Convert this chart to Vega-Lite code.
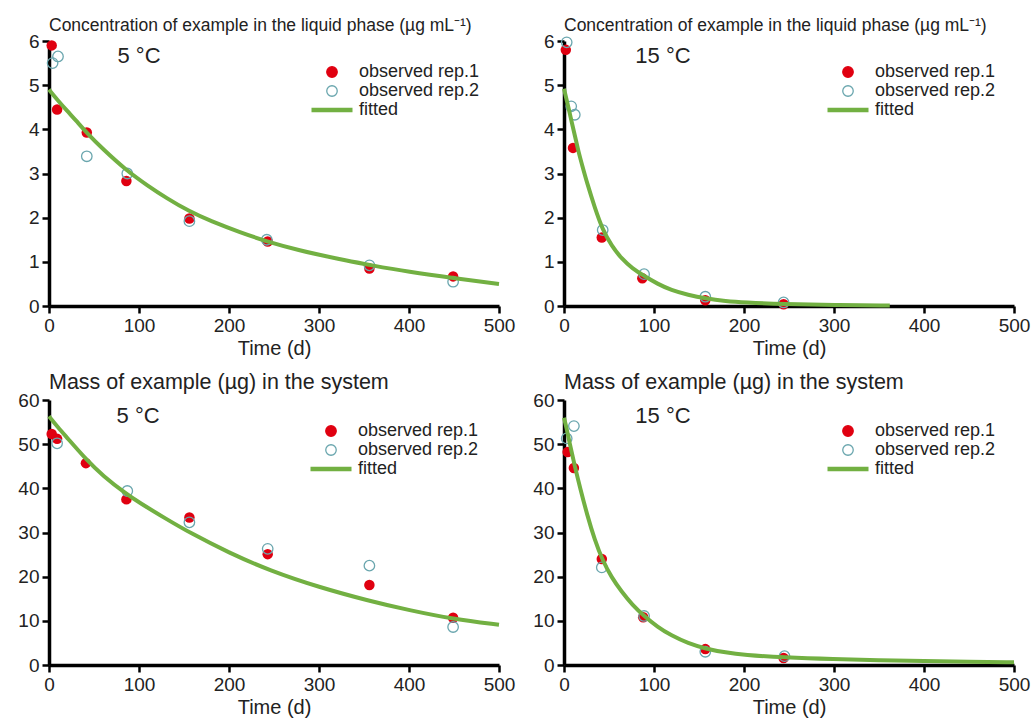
{
  "$schema": "https://vega.github.io/schema/vega-lite/v6.json",
  "background": "white",
  "padding": {"left": 17, "top": 16, "right": 5, "bottom": 5},
  "config": {
    "view": {"stroke": null},
    "font": "Liberation Sans",
    "axis": {
      "grid": false, "domainColor": "black", "domainWidth": 3.5, "tickColor": "black", "tickWidth": 2.5, "tickSize": 7,
      "labelFontSize": 19, "labelColor": "#222", "labelFont": "Liberation Sans", "labelPadding": 3, "labelFlush": false,
      "titleFontSize": 20, "titleFontWeight": "normal", "titleColor": "#222", "titleFont": "Liberation Sans", "titlePadding": 3
    },
    "title": {"anchor": "start", "frame": "group", "fontWeight": "normal", "color": "#222", "font": "Liberation Sans", "offset": -2},
    "legend": {"labelFontSize": 18, "labelColor": "#222", "labelFont": "Liberation Sans", "symbolSize": 110, "labelOffset": 18, "rowPadding": 1, "padding": 0, "symbolStrokeWidth": 1.3}
  },
  "datasets": {
    "obs": [
      {"panel": "c5", "series": "observed rep.1", "t": 3, "v": 5.9},
      {"panel": "c5", "series": "observed rep.1", "t": 9, "v": 4.45},
      {"panel": "c5", "series": "observed rep.1", "t": 42, "v": 3.93},
      {"panel": "c5", "series": "observed rep.1", "t": 86, "v": 2.83},
      {"panel": "c5", "series": "observed rep.1", "t": 156, "v": 1.98},
      {"panel": "c5", "series": "observed rep.1", "t": 243, "v": 1.46},
      {"panel": "c5", "series": "observed rep.1", "t": 356, "v": 0.85},
      {"panel": "c5", "series": "observed rep.1", "t": 449, "v": 0.67},
      {"panel": "c5", "series": "observed rep.2", "t": 4, "v": 5.5},
      {"panel": "c5", "series": "observed rep.2", "t": 10, "v": 5.65},
      {"panel": "c5", "series": "observed rep.2", "t": 42, "v": 3.39},
      {"panel": "c5", "series": "observed rep.2", "t": 87, "v": 3.0},
      {"panel": "c5", "series": "observed rep.2", "t": 156, "v": 1.92},
      {"panel": "c5", "series": "observed rep.2", "t": 242, "v": 1.5},
      {"panel": "c5", "series": "observed rep.2", "t": 356, "v": 0.92},
      {"panel": "c5", "series": "observed rep.2", "t": 449, "v": 0.55},
      {"panel": "c15", "series": "observed rep.1", "t": 2, "v": 5.8},
      {"panel": "c15", "series": "observed rep.1", "t": 10, "v": 3.58},
      {"panel": "c15", "series": "observed rep.1", "t": 42, "v": 1.55},
      {"panel": "c15", "series": "observed rep.1", "t": 87, "v": 0.63},
      {"panel": "c15", "series": "observed rep.1", "t": 157, "v": 0.13},
      {"panel": "c15", "series": "observed rep.1", "t": 244, "v": 0.04},
      {"panel": "c15", "series": "observed rep.2", "t": 3, "v": 5.97},
      {"panel": "c15", "series": "observed rep.2", "t": 8, "v": 4.52},
      {"panel": "c15", "series": "observed rep.2", "t": 12, "v": 4.33},
      {"panel": "c15", "series": "observed rep.2", "t": 43, "v": 1.72},
      {"panel": "c15", "series": "observed rep.2", "t": 89, "v": 0.72},
      {"panel": "c15", "series": "observed rep.2", "t": 157, "v": 0.21},
      {"panel": "c15", "series": "observed rep.2", "t": 244, "v": 0.08},
      {"panel": "m5", "series": "observed rep.1", "t": 3, "v": 52.3},
      {"panel": "m5", "series": "observed rep.1", "t": 9, "v": 51.2},
      {"panel": "m5", "series": "observed rep.1", "t": 41, "v": 45.7},
      {"panel": "m5", "series": "observed rep.1", "t": 86, "v": 37.5},
      {"panel": "m5", "series": "observed rep.1", "t": 156, "v": 33.4},
      {"panel": "m5", "series": "observed rep.1", "t": 243, "v": 25.1},
      {"panel": "m5", "series": "observed rep.1", "t": 356, "v": 18.1},
      {"panel": "m5", "series": "observed rep.1", "t": 449, "v": 10.7},
      {"panel": "m5", "series": "observed rep.2", "t": 9, "v": 50.2},
      {"panel": "m5", "series": "observed rep.2", "t": 87, "v": 39.4},
      {"panel": "m5", "series": "observed rep.2", "t": 156, "v": 32.3},
      {"panel": "m5", "series": "observed rep.2", "t": 243, "v": 26.3},
      {"panel": "m5", "series": "observed rep.2", "t": 356, "v": 22.5},
      {"panel": "m5", "series": "observed rep.2", "t": 449, "v": 8.6},
      {"panel": "m15", "series": "observed rep.1", "t": 4, "v": 48.2},
      {"panel": "m15", "series": "observed rep.1", "t": 11, "v": 44.6},
      {"panel": "m15", "series": "observed rep.1", "t": 42, "v": 24.0},
      {"panel": "m15", "series": "observed rep.1", "t": 88, "v": 10.8},
      {"panel": "m15", "series": "observed rep.1", "t": 157, "v": 3.6},
      {"panel": "m15", "series": "observed rep.1", "t": 244, "v": 1.6},
      {"panel": "m15", "series": "observed rep.2", "t": 3, "v": 51.3},
      {"panel": "m15", "series": "observed rep.2", "t": 11, "v": 54.1},
      {"panel": "m15", "series": "observed rep.2", "t": 42, "v": 22.1},
      {"panel": "m15", "series": "observed rep.2", "t": 89, "v": 11.1},
      {"panel": "m15", "series": "observed rep.2", "t": 157, "v": 3.0},
      {"panel": "m15", "series": "observed rep.2", "t": 245, "v": 2.0}
    ],
    "fit": [
      {"panel": "c5", "series": "fitted", "t": 0, "v": 4.9},
      {"panel": "c5", "series": "fitted", "t": 10, "v": 4.65},
      {"panel": "c5", "series": "fitted", "t": 20, "v": 4.42},
      {"panel": "c5", "series": "fitted", "t": 30, "v": 4.2},
      {"panel": "c5", "series": "fitted", "t": 42, "v": 3.92},
      {"panel": "c5", "series": "fitted", "t": 60, "v": 3.55},
      {"panel": "c5", "series": "fitted", "t": 86, "v": 3.07},
      {"panel": "c5", "series": "fitted", "t": 110, "v": 2.72},
      {"panel": "c5", "series": "fitted", "t": 130, "v": 2.45},
      {"panel": "c5", "series": "fitted", "t": 156, "v": 2.14},
      {"panel": "c5", "series": "fitted", "t": 180, "v": 1.92},
      {"panel": "c5", "series": "fitted", "t": 212, "v": 1.67},
      {"panel": "c5", "series": "fitted", "t": 245, "v": 1.44},
      {"panel": "c5", "series": "fitted", "t": 280, "v": 1.25},
      {"panel": "c5", "series": "fitted", "t": 300, "v": 1.16},
      {"panel": "c5", "series": "fitted", "t": 330, "v": 1.03},
      {"panel": "c5", "series": "fitted", "t": 356, "v": 0.93},
      {"panel": "c5", "series": "fitted", "t": 400, "v": 0.77},
      {"panel": "c5", "series": "fitted", "t": 449, "v": 0.63},
      {"panel": "c5", "series": "fitted", "t": 500, "v": 0.5},
      {"panel": "c15", "series": "fitted", "t": 0, "v": 4.92},
      {"panel": "c15", "series": "fitted", "t": 3, "v": 4.66},
      {"panel": "c15", "series": "fitted", "t": 6, "v": 4.4},
      {"panel": "c15", "series": "fitted", "t": 9, "v": 4.12},
      {"panel": "c15", "series": "fitted", "t": 12, "v": 3.87},
      {"panel": "c15", "series": "fitted", "t": 16, "v": 3.5},
      {"panel": "c15", "series": "fitted", "t": 20, "v": 3.2},
      {"panel": "c15", "series": "fitted", "t": 26, "v": 2.76},
      {"panel": "c15", "series": "fitted", "t": 34, "v": 2.24},
      {"panel": "c15", "series": "fitted", "t": 43, "v": 1.72},
      {"panel": "c15", "series": "fitted", "t": 53, "v": 1.36},
      {"panel": "c15", "series": "fitted", "t": 64, "v": 1.07},
      {"panel": "c15", "series": "fitted", "t": 76, "v": 0.85},
      {"panel": "c15", "series": "fitted", "t": 89, "v": 0.68},
      {"panel": "c15", "series": "fitted", "t": 104, "v": 0.5},
      {"panel": "c15", "series": "fitted", "t": 119, "v": 0.36},
      {"panel": "c15", "series": "fitted", "t": 138, "v": 0.25},
      {"panel": "c15", "series": "fitted", "t": 157, "v": 0.17},
      {"panel": "c15", "series": "fitted", "t": 180, "v": 0.11},
      {"panel": "c15", "series": "fitted", "t": 200, "v": 0.08},
      {"panel": "c15", "series": "fitted", "t": 244, "v": 0.04},
      {"panel": "c15", "series": "fitted", "t": 300, "v": 0.02},
      {"panel": "c15", "series": "fitted", "t": 362, "v": 0.01},
      {"panel": "m5", "series": "fitted", "t": 0, "v": 56.3},
      {"panel": "m5", "series": "fitted", "t": 10, "v": 53.8},
      {"panel": "m5", "series": "fitted", "t": 20, "v": 51.5},
      {"panel": "m5", "series": "fitted", "t": 41, "v": 46.6},
      {"panel": "m5", "series": "fitted", "t": 60, "v": 42.8},
      {"panel": "m5", "series": "fitted", "t": 86, "v": 38.7},
      {"panel": "m5", "series": "fitted", "t": 100, "v": 36.8},
      {"panel": "m5", "series": "fitted", "t": 130, "v": 33.1},
      {"panel": "m5", "series": "fitted", "t": 156, "v": 30.0},
      {"panel": "m5", "series": "fitted", "t": 200, "v": 25.4},
      {"panel": "m5", "series": "fitted", "t": 245, "v": 21.4},
      {"panel": "m5", "series": "fitted", "t": 300, "v": 17.6},
      {"panel": "m5", "series": "fitted", "t": 356, "v": 14.5},
      {"panel": "m5", "series": "fitted", "t": 400, "v": 12.4},
      {"panel": "m5", "series": "fitted", "t": 449, "v": 10.4},
      {"panel": "m5", "series": "fitted", "t": 500, "v": 9.1},
      {"panel": "m15", "series": "fitted", "t": 0, "v": 56},
      {"panel": "m15", "series": "fitted", "t": 3, "v": 53.5},
      {"panel": "m15", "series": "fitted", "t": 6, "v": 50.5},
      {"panel": "m15", "series": "fitted", "t": 12, "v": 45},
      {"panel": "m15", "series": "fitted", "t": 18, "v": 40},
      {"panel": "m15", "series": "fitted", "t": 26, "v": 33.8},
      {"panel": "m15", "series": "fitted", "t": 34, "v": 28.4},
      {"panel": "m15", "series": "fitted", "t": 43, "v": 23.6},
      {"panel": "m15", "series": "fitted", "t": 53, "v": 19.8},
      {"panel": "m15", "series": "fitted", "t": 64, "v": 16.6},
      {"panel": "m15", "series": "fitted", "t": 76, "v": 13.6},
      {"panel": "m15", "series": "fitted", "t": 89, "v": 11.1},
      {"panel": "m15", "series": "fitted", "t": 104, "v": 8.6},
      {"panel": "m15", "series": "fitted", "t": 119, "v": 6.7},
      {"panel": "m15", "series": "fitted", "t": 138, "v": 4.9},
      {"panel": "m15", "series": "fitted", "t": 157, "v": 3.7},
      {"panel": "m15", "series": "fitted", "t": 180, "v": 2.8},
      {"panel": "m15", "series": "fitted", "t": 200, "v": 2.3},
      {"panel": "m15", "series": "fitted", "t": 244, "v": 1.7},
      {"panel": "m15", "series": "fitted", "t": 300, "v": 1.3},
      {"panel": "m15", "series": "fitted", "t": 350, "v": 1.1},
      {"panel": "m15", "series": "fitted", "t": 400, "v": 0.9},
      {"panel": "m15", "series": "fitted", "t": 450, "v": 0.75},
      {"panel": "m15", "series": "fitted", "t": 500, "v": 0.6}
    ],
    "labels": [
      {"panel": "c5", "label": "5 °C"},
      {"panel": "c15", "label": "15 °C"},
      {"panel": "m5", "label": "5 °C"},
      {"panel": "m15", "label": "15 °C"}
    ]
  },
  "columns": 2,
  "bounds": "flush",
  "spacing": {"row": 94, "column": 65},
  "resolve": {"scale": {"color": "independent"}, "legend": {"color": "independent"}},
  "concat": [
    {
      "width": 450, "height": 265,
      "title": {"text": "Concentration of example in the liquid phase (µg mL⁻¹)", "fontSize": 17.5},
      "layer": [
        {"data": {"name": "obs"}, "transform": [{"filter": "datum.panel === 'c5' && datum.series === 'observed rep.1'"}],
         "mark": {"type": "point", "filled": true, "size": 110, "opacity": 1},
         "encoding": {
           "x": {"field": "t", "type": "quantitative", "scale": {"domain": [0, 500], "nice": false}, "axis": {"title": "Time (d)", "values": [0, 100, 200, 300, 400, 500]}},
           "y": {"field": "v", "type": "quantitative", "scale": {"domain": [0, 6], "nice": false}, "axis": {"title": null, "values": [0, 1, 2, 3, 4, 5, 6]}},
           "color": {"field": "series", "type": "nominal", "scale": {"domain": ["observed rep.1", "observed rep.2", "fitted"], "range": ["#e00010", "#6aa6ae", "#72b042"]},
             "legend": {"title": null, "orient": "none", "legendX": 274, "legendY": 22,
               "encode": {"symbols": {"update": {
                 "shape": {"signal": "datum.value === 'fitted' ? 'stroke' : 'circle'"},
                 "size": {"signal": "datum.value === 'fitted' ? 1681 : 110"},
                 "fill": {"signal": "datum.value === 'observed rep.1' ? '#e00010' : 'transparent'"},
                 "fillOpacity": {"signal": "datum.value === 'observed rep.1' ? 1 : 0"},
                 "stroke": {"signal": "datum.value === 'observed rep.1' ? '#e00010' : datum.value === 'observed rep.2' ? '#6aa6ae' : '#72b042'"},
                 "strokeWidth": {"signal": "datum.value === 'fitted' ? 4.5 : 1.3"},
                 "opacity": {"value": 1}, "strokeOpacity": {"value": 1}}}}}}
         }},
        {"data": {"name": "obs"}, "transform": [{"filter": "datum.panel === 'c5' && datum.series === 'observed rep.2'"}],
         "mark": {"type": "point", "filled": false, "size": 110, "strokeWidth": 1.3, "opacity": 1},
         "encoding": {"x": {"field": "t", "type": "quantitative"}, "y": {"field": "v", "type": "quantitative"},
           "color": {"field": "series", "type": "nominal",
             "legend": {"title": null, "orient": "none", "legendX": 274, "legendY": 22,
               "encode": {"symbols": {"update": {
                 "shape": {"signal": "datum.value === 'fitted' ? 'stroke' : 'circle'"},
                 "size": {"signal": "datum.value === 'fitted' ? 1681 : 110"},
                 "fill": {"signal": "datum.value === 'observed rep.1' ? '#e00010' : 'transparent'"},
                 "fillOpacity": {"signal": "datum.value === 'observed rep.1' ? 1 : 0"},
                 "stroke": {"signal": "datum.value === 'observed rep.1' ? '#e00010' : datum.value === 'observed rep.2' ? '#6aa6ae' : '#72b042'"},
                 "strokeWidth": {"signal": "datum.value === 'fitted' ? 4.5 : 1.3"},
                 "opacity": {"value": 1}, "strokeOpacity": {"value": 1}}}}}}}},
        {"data": {"name": "fit"}, "transform": [{"filter": "datum.panel === 'c5'"}],
         "mark": {"type": "line", "strokeWidth": 4, "interpolate": "basis"},
         "encoding": {"x": {"field": "t", "type": "quantitative"}, "y": {"field": "v", "type": "quantitative"},
           "color": {"field": "series", "type": "nominal",
             "legend": {"title": null, "orient": "none", "legendX": 274, "legendY": 22,
               "encode": {"symbols": {"update": {
                 "shape": {"signal": "datum.value === 'fitted' ? 'stroke' : 'circle'"},
                 "size": {"signal": "datum.value === 'fitted' ? 1681 : 110"},
                 "fill": {"signal": "datum.value === 'observed rep.1' ? '#e00010' : 'transparent'"},
                 "fillOpacity": {"signal": "datum.value === 'observed rep.1' ? 1 : 0"},
                 "stroke": {"signal": "datum.value === 'observed rep.1' ? '#e00010' : datum.value === 'observed rep.2' ? '#6aa6ae' : '#72b042'"},
                 "strokeWidth": {"signal": "datum.value === 'fitted' ? 4.5 : 1.3"},
                 "opacity": {"value": 1}, "strokeOpacity": {"value": 1}}}}}}}},
        {"data": {"name": "labels"}, "transform": [{"filter": "datum.panel === 'c5'"}],
         "mark": {"type": "text", "fontSize": 22, "color": "#222", "font": "Liberation Sans"},
         "encoding": {"x": {"datum": 100}, "y": {"datum": 5.65}, "text": {"field": "label"}}}
      ]
    },
    {
      "width": 450, "height": 265,
      "title": {"text": "Concentration of example in the liquid phase (µg mL⁻¹)", "fontSize": 17.5},
      "layer": [
        {"data": {"name": "obs"}, "transform": [{"filter": "datum.panel === 'c15' && datum.series === 'observed rep.1'"}],
         "mark": {"type": "point", "filled": true, "size": 110, "opacity": 1},
         "encoding": {
           "x": {"field": "t", "type": "quantitative", "scale": {"domain": [0, 500], "nice": false}, "axis": {"title": "Time (d)", "values": [0, 100, 200, 300, 400, 500]}},
           "y": {"field": "v", "type": "quantitative", "scale": {"domain": [0, 6], "nice": false}, "axis": {"title": null, "values": [0, 1, 2, 3, 4, 5, 6]}},
           "color": {"field": "series", "type": "nominal", "scale": {"domain": ["observed rep.1", "observed rep.2", "fitted"], "range": ["#e00010", "#6aa6ae", "#72b042"]},
             "legend": {"title": null, "orient": "none", "legendX": 275, "legendY": 22,
               "encode": {"symbols": {"update": {
                 "shape": {"signal": "datum.value === 'fitted' ? 'stroke' : 'circle'"},
                 "size": {"signal": "datum.value === 'fitted' ? 1681 : 110"},
                 "fill": {"signal": "datum.value === 'observed rep.1' ? '#e00010' : 'transparent'"},
                 "fillOpacity": {"signal": "datum.value === 'observed rep.1' ? 1 : 0"},
                 "stroke": {"signal": "datum.value === 'observed rep.1' ? '#e00010' : datum.value === 'observed rep.2' ? '#6aa6ae' : '#72b042'"},
                 "strokeWidth": {"signal": "datum.value === 'fitted' ? 4.5 : 1.3"},
                 "opacity": {"value": 1}, "strokeOpacity": {"value": 1}}}}}}
         }},
        {"data": {"name": "obs"}, "transform": [{"filter": "datum.panel === 'c15' && datum.series === 'observed rep.2'"}],
         "mark": {"type": "point", "filled": false, "size": 110, "strokeWidth": 1.3, "opacity": 1},
         "encoding": {"x": {"field": "t", "type": "quantitative"}, "y": {"field": "v", "type": "quantitative"},
           "color": {"field": "series", "type": "nominal",
             "legend": {"title": null, "orient": "none", "legendX": 275, "legendY": 22,
               "encode": {"symbols": {"update": {
                 "shape": {"signal": "datum.value === 'fitted' ? 'stroke' : 'circle'"},
                 "size": {"signal": "datum.value === 'fitted' ? 1681 : 110"},
                 "fill": {"signal": "datum.value === 'observed rep.1' ? '#e00010' : 'transparent'"},
                 "fillOpacity": {"signal": "datum.value === 'observed rep.1' ? 1 : 0"},
                 "stroke": {"signal": "datum.value === 'observed rep.1' ? '#e00010' : datum.value === 'observed rep.2' ? '#6aa6ae' : '#72b042'"},
                 "strokeWidth": {"signal": "datum.value === 'fitted' ? 4.5 : 1.3"},
                 "opacity": {"value": 1}, "strokeOpacity": {"value": 1}}}}}}}},
        {"data": {"name": "fit"}, "transform": [{"filter": "datum.panel === 'c15'"}],
         "mark": {"type": "line", "strokeWidth": 4, "interpolate": "basis"},
         "encoding": {"x": {"field": "t", "type": "quantitative"}, "y": {"field": "v", "type": "quantitative"},
           "color": {"field": "series", "type": "nominal",
             "legend": {"title": null, "orient": "none", "legendX": 275, "legendY": 22,
               "encode": {"symbols": {"update": {
                 "shape": {"signal": "datum.value === 'fitted' ? 'stroke' : 'circle'"},
                 "size": {"signal": "datum.value === 'fitted' ? 1681 : 110"},
                 "fill": {"signal": "datum.value === 'observed rep.1' ? '#e00010' : 'transparent'"},
                 "fillOpacity": {"signal": "datum.value === 'observed rep.1' ? 1 : 0"},
                 "stroke": {"signal": "datum.value === 'observed rep.1' ? '#e00010' : datum.value === 'observed rep.2' ? '#6aa6ae' : '#72b042'"},
                 "strokeWidth": {"signal": "datum.value === 'fitted' ? 4.5 : 1.3"},
                 "opacity": {"value": 1}, "strokeOpacity": {"value": 1}}}}}}}},
        {"data": {"name": "labels"}, "transform": [{"filter": "datum.panel === 'c15'"}],
         "mark": {"type": "text", "fontSize": 22, "color": "#222", "font": "Liberation Sans"},
         "encoding": {"x": {"datum": 110}, "y": {"datum": 5.65}, "text": {"field": "label"}}}
      ]
    },
    {
      "width": 450, "height": 265,
      "title": {"text": "Mass of example (µg) in the system", "fontSize": 21.5},
      "layer": [
        {"data": {"name": "obs"}, "transform": [{"filter": "datum.panel === 'm5' && datum.series === 'observed rep.1'"}],
         "mark": {"type": "point", "filled": true, "size": 110, "opacity": 1},
         "encoding": {
           "x": {"field": "t", "type": "quantitative", "scale": {"domain": [0, 500], "nice": false}, "axis": {"title": "Time (d)", "values": [0, 100, 200, 300, 400, 500]}},
           "y": {"field": "v", "type": "quantitative", "scale": {"domain": [0, 60], "nice": false}, "axis": {"title": null, "values": [0, 10, 20, 30, 40, 50, 60]}},
           "color": {"field": "series", "type": "nominal", "scale": {"domain": ["observed rep.1", "observed rep.2", "fitted"], "range": ["#e00010", "#6aa6ae", "#72b042"]},
             "legend": {"title": null, "orient": "none", "legendX": 273, "legendY": 22,
               "encode": {"symbols": {"update": {
                 "shape": {"signal": "datum.value === 'fitted' ? 'stroke' : 'circle'"},
                 "size": {"signal": "datum.value === 'fitted' ? 1681 : 110"},
                 "fill": {"signal": "datum.value === 'observed rep.1' ? '#e00010' : 'transparent'"},
                 "fillOpacity": {"signal": "datum.value === 'observed rep.1' ? 1 : 0"},
                 "stroke": {"signal": "datum.value === 'observed rep.1' ? '#e00010' : datum.value === 'observed rep.2' ? '#6aa6ae' : '#72b042'"},
                 "strokeWidth": {"signal": "datum.value === 'fitted' ? 4.5 : 1.3"},
                 "opacity": {"value": 1}, "strokeOpacity": {"value": 1}}}}}}
         }},
        {"data": {"name": "obs"}, "transform": [{"filter": "datum.panel === 'm5' && datum.series === 'observed rep.2'"}],
         "mark": {"type": "point", "filled": false, "size": 110, "strokeWidth": 1.3, "opacity": 1},
         "encoding": {"x": {"field": "t", "type": "quantitative"}, "y": {"field": "v", "type": "quantitative"},
           "color": {"field": "series", "type": "nominal",
             "legend": {"title": null, "orient": "none", "legendX": 273, "legendY": 22,
               "encode": {"symbols": {"update": {
                 "shape": {"signal": "datum.value === 'fitted' ? 'stroke' : 'circle'"},
                 "size": {"signal": "datum.value === 'fitted' ? 1681 : 110"},
                 "fill": {"signal": "datum.value === 'observed rep.1' ? '#e00010' : 'transparent'"},
                 "fillOpacity": {"signal": "datum.value === 'observed rep.1' ? 1 : 0"},
                 "stroke": {"signal": "datum.value === 'observed rep.1' ? '#e00010' : datum.value === 'observed rep.2' ? '#6aa6ae' : '#72b042'"},
                 "strokeWidth": {"signal": "datum.value === 'fitted' ? 4.5 : 1.3"},
                 "opacity": {"value": 1}, "strokeOpacity": {"value": 1}}}}}}}},
        {"data": {"name": "fit"}, "transform": [{"filter": "datum.panel === 'm5'"}],
         "mark": {"type": "line", "strokeWidth": 4, "interpolate": "basis"},
         "encoding": {"x": {"field": "t", "type": "quantitative"}, "y": {"field": "v", "type": "quantitative"},
           "color": {"field": "series", "type": "nominal",
             "legend": {"title": null, "orient": "none", "legendX": 273, "legendY": 22,
               "encode": {"symbols": {"update": {
                 "shape": {"signal": "datum.value === 'fitted' ? 'stroke' : 'circle'"},
                 "size": {"signal": "datum.value === 'fitted' ? 1681 : 110"},
                 "fill": {"signal": "datum.value === 'observed rep.1' ? '#e00010' : 'transparent'"},
                 "fillOpacity": {"signal": "datum.value === 'observed rep.1' ? 1 : 0"},
                 "stroke": {"signal": "datum.value === 'observed rep.1' ? '#e00010' : datum.value === 'observed rep.2' ? '#6aa6ae' : '#72b042'"},
                 "strokeWidth": {"signal": "datum.value === 'fitted' ? 4.5 : 1.3"},
                 "opacity": {"value": 1}, "strokeOpacity": {"value": 1}}}}}}}},
        {"data": {"name": "labels"}, "transform": [{"filter": "datum.panel === 'm5'"}],
         "mark": {"type": "text", "fontSize": 22, "color": "#222", "font": "Liberation Sans"},
         "encoding": {"x": {"datum": 99}, "y": {"datum": 56.3}, "text": {"field": "label"}}}
      ]
    },
    {
      "width": 450, "height": 265,
      "title": {"text": "Mass of example (µg) in the system", "fontSize": 21.5},
      "layer": [
        {"data": {"name": "obs"}, "transform": [{"filter": "datum.panel === 'm15' && datum.series === 'observed rep.1'"}],
         "mark": {"type": "point", "filled": true, "size": 110, "opacity": 1},
         "encoding": {
           "x": {"field": "t", "type": "quantitative", "scale": {"domain": [0, 500], "nice": false}, "axis": {"title": "Time (d)", "values": [0, 100, 200, 300, 400, 500]}},
           "y": {"field": "v", "type": "quantitative", "scale": {"domain": [0, 60], "nice": false}, "axis": {"title": null, "values": [0, 10, 20, 30, 40, 50, 60]}},
           "color": {"field": "series", "type": "nominal", "scale": {"domain": ["observed rep.1", "observed rep.2", "fitted"], "range": ["#e00010", "#6aa6ae", "#72b042"]},
             "legend": {"title": null, "orient": "none", "legendX": 275, "legendY": 22,
               "encode": {"symbols": {"update": {
                 "shape": {"signal": "datum.value === 'fitted' ? 'stroke' : 'circle'"},
                 "size": {"signal": "datum.value === 'fitted' ? 1681 : 110"},
                 "fill": {"signal": "datum.value === 'observed rep.1' ? '#e00010' : 'transparent'"},
                 "fillOpacity": {"signal": "datum.value === 'observed rep.1' ? 1 : 0"},
                 "stroke": {"signal": "datum.value === 'observed rep.1' ? '#e00010' : datum.value === 'observed rep.2' ? '#6aa6ae' : '#72b042'"},
                 "strokeWidth": {"signal": "datum.value === 'fitted' ? 4.5 : 1.3"},
                 "opacity": {"value": 1}, "strokeOpacity": {"value": 1}}}}}}
         }},
        {"data": {"name": "obs"}, "transform": [{"filter": "datum.panel === 'm15' && datum.series === 'observed rep.2'"}],
         "mark": {"type": "point", "filled": false, "size": 110, "strokeWidth": 1.3, "opacity": 1},
         "encoding": {"x": {"field": "t", "type": "quantitative"}, "y": {"field": "v", "type": "quantitative"},
           "color": {"field": "series", "type": "nominal",
             "legend": {"title": null, "orient": "none", "legendX": 275, "legendY": 22,
               "encode": {"symbols": {"update": {
                 "shape": {"signal": "datum.value === 'fitted' ? 'stroke' : 'circle'"},
                 "size": {"signal": "datum.value === 'fitted' ? 1681 : 110"},
                 "fill": {"signal": "datum.value === 'observed rep.1' ? '#e00010' : 'transparent'"},
                 "fillOpacity": {"signal": "datum.value === 'observed rep.1' ? 1 : 0"},
                 "stroke": {"signal": "datum.value === 'observed rep.1' ? '#e00010' : datum.value === 'observed rep.2' ? '#6aa6ae' : '#72b042'"},
                 "strokeWidth": {"signal": "datum.value === 'fitted' ? 4.5 : 1.3"},
                 "opacity": {"value": 1}, "strokeOpacity": {"value": 1}}}}}}}},
        {"data": {"name": "fit"}, "transform": [{"filter": "datum.panel === 'm15'"}],
         "mark": {"type": "line", "strokeWidth": 4, "interpolate": "basis"},
         "encoding": {"x": {"field": "t", "type": "quantitative"}, "y": {"field": "v", "type": "quantitative"},
           "color": {"field": "series", "type": "nominal",
             "legend": {"title": null, "orient": "none", "legendX": 275, "legendY": 22,
               "encode": {"symbols": {"update": {
                 "shape": {"signal": "datum.value === 'fitted' ? 'stroke' : 'circle'"},
                 "size": {"signal": "datum.value === 'fitted' ? 1681 : 110"},
                 "fill": {"signal": "datum.value === 'observed rep.1' ? '#e00010' : 'transparent'"},
                 "fillOpacity": {"signal": "datum.value === 'observed rep.1' ? 1 : 0"},
                 "stroke": {"signal": "datum.value === 'observed rep.1' ? '#e00010' : datum.value === 'observed rep.2' ? '#6aa6ae' : '#72b042'"},
                 "strokeWidth": {"signal": "datum.value === 'fitted' ? 4.5 : 1.3"},
                 "opacity": {"value": 1}, "strokeOpacity": {"value": 1}}}}}}}},
        {"data": {"name": "labels"}, "transform": [{"filter": "datum.panel === 'm15'"}],
         "mark": {"type": "text", "fontSize": 22, "color": "#222", "font": "Liberation Sans"},
         "encoding": {"x": {"datum": 110}, "y": {"datum": 56.3}, "text": {"field": "label"}}}
      ]
    }
  ]
}
